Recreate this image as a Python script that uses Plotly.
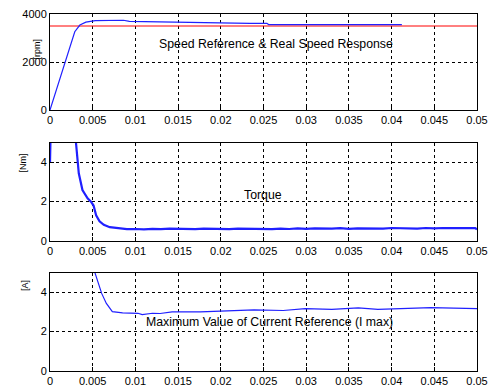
import plotly.graph_objects as go

# ---- data ----
x_ticks = [0, 0.005, 0.01, 0.015, 0.02, 0.025, 0.03, 0.035, 0.04, 0.045, 0.05]
x_ticklabels = ["0", "0.005", "0.01", "0.015", "0.02", "0.025", "0.03", "0.035", "0.04", "0.045", "0.05"]

speed_t = [0, 0.001, 0.002, 0.0029, 0.0035, 0.0042, 0.0053, 0.007, 0.0086, 0.0093, 0.0129, 0.0131,
           0.018, 0.0182, 0.0234, 0.0254, 0.0256, 0.03, 0.035, 0.0412]
speed_v = [0, 1150, 2250, 3260, 3540, 3660, 3720, 3730, 3740, 3690, 3670, 3640,
           3630, 3610, 3610, 3610, 3560, 3560, 3555, 3555]

ref_t = [0, 0.05]
ref_v = [3500, 3500]

torque_t = [0, 0.0002, 0.0029, 0.00304, 0.00337, 0.0038, 0.0044, 0.0048, 0.0051, 0.0054, 0.0058,
            0.0063, 0.007, 0.0082, 0.009, 0.01, 0.011, 0.012, 0.013, 0.014, 0.015, 0.016, 0.017,
            0.018, 0.019, 0.02, 0.021, 0.022, 0.023, 0.024, 0.025, 0.026, 0.027, 0.028, 0.029,
            0.03, 0.031, 0.032, 0.033, 0.034, 0.035, 0.036, 0.037, 0.038, 0.039, 0.04, 0.041,
            0.042, 0.043, 0.044, 0.045, 0.046, 0.047, 0.048, 0.049, 0.0498, 0.05]
torque_v = [4.0, 8.0, 8.0, 5.0, 3.44, 2.59, 2.17, 2.0, 1.8, 1.3, 1.0,
            0.82, 0.7, 0.62, 0.6, 0.61, 0.59, 0.62, 0.6, 0.63, 0.61, 0.62, 0.6,
            0.63, 0.61, 0.62, 0.6, 0.63, 0.62, 0.61, 0.63, 0.6, 0.63, 0.61, 0.64,
            0.62, 0.64, 0.62, 0.63, 0.65, 0.62, 0.64, 0.63, 0.65, 0.63, 0.66, 0.64,
            0.65, 0.63, 0.66, 0.64, 0.66, 0.65, 0.64, 0.66, 0.65, 0.6]

cur_t = [0.0045, 0.00527, 0.00605, 0.0066, 0.0073, 0.0085, 0.0103, 0.0108, 0.012, 0.0129,
         0.0143, 0.0176, 0.0215, 0.0234, 0.0239, 0.0273, 0.0299, 0.033, 0.0361, 0.0384,
         0.0407, 0.0446, 0.05]
cur_v = [6.0, 5.0, 3.94, 3.43, 3.01, 2.95, 2.93, 2.86, 2.93, 2.92,
         3.0, 3.0, 3.05, 3.1, 3.1, 3.07, 3.17, 3.13, 3.2, 3.13,
         3.17, 3.22, 3.17]

speed_ticks = [0, 2000, 4000]
small_ticks = [0, 2, 4]
y_titles = ["[rpm]", "[Nm]", "[A]"]
panel_texts = ["Speed Reference & Real Speed Response", "Torque",
               "Maximum Value of Current Reference (I max)"]

FONT = "Liberation Sans, Arial, sans-serif"
BLUE = "#2020ff"

fig = go.Figure()
fig.add_trace(go.Scatter(x=ref_t, y=ref_v, mode="lines", line=dict(color="#ff0000", width=1),
                         xaxis="x", yaxis="y"))
fig.add_trace(go.Scatter(x=speed_t, y=speed_v, mode="lines", line=dict(color=BLUE, width=1.2),
                         xaxis="x", yaxis="y"))
fig.add_trace(go.Scatter(x=torque_t, y=torque_v, mode="lines", line=dict(color=BLUE, width=2.2),
                         xaxis="x2", yaxis="y2"))
fig.add_trace(go.Scatter(x=cur_t, y=cur_v, mode="lines", line=dict(color=BLUE, width=1.2),
                         xaxis="x3", yaxis="y3"))

W, H = 488, 390
xdom = [50 / W, 477 / W]
ydoms = [[1 - 110 / H, 1 - 14 / H], [1 - 241 / H, 1 - 142.5 / H], [1 - 371 / H, 1 - 272.5 / H]]

def xax(anchor):
    return dict(domain=xdom, range=[0, 0.05], tickvals=x_ticks, ticktext=x_ticklabels,
                showline=True, linecolor="black", linewidth=1, mirror=True,
                showgrid=True, gridcolor="black", griddash="3px,3px", gridwidth=1,
                ticks="inside", ticklen=4, tickcolor="black", zeroline=False, automargin=False,
                tickfont=dict(family=FONT, size=11, color="black"), anchor=anchor)

def yax(dom, rng, tv, anchor):
    return dict(domain=dom, range=rng, tickvals=tv,
                showline=True, linecolor="black", linewidth=1, mirror=True,
                showgrid=True, gridcolor="black", griddash="3px,3px", gridwidth=1,
                ticks="inside", ticklen=4, tickcolor="black", zeroline=False, automargin=False,
                tickfont=dict(family=FONT, size=11, color="black"), anchor=anchor)

fig.update_layout(
    width=W, height=H, margin=dict(l=0, r=0, t=0, b=0, autoexpand=False),
    paper_bgcolor="white", plot_bgcolor="white", showlegend=False,
    xaxis=xax("y"), yaxis=yax(ydoms[0], [0, 4000], speed_ticks, "x"),
    xaxis2=xax("y2"), yaxis2=yax(ydoms[1], [0, 5], small_ticks, "x2"),
    xaxis3=xax("y3"), yaxis3=yax(ydoms[2], [0, 5], small_ticks, "x3"),
)

# rotated y-axis titles (pixel centres)
title_pos = [(29.5, 36.5), (15.5, 163), (17.5, 293)]
for txt, (px, py) in zip(y_titles, title_pos):
    fig.add_annotation(x=px / W, y=1 - py / H, xref="paper", yref="paper", text=txt,
                       textangle=-90, showarrow=False,
                       font=dict(family=FONT, size=9, color="black"))

ann_font = dict(family=FONT, size=12.3, color="black")
fig.add_annotation(x=0.0265, y=2750, xref="x", yref="y", text=panel_texts[0],
                   showarrow=False, font=ann_font)
fig.add_annotation(x=0.0249, y=2.33, xref="x2", yref="y2", text=panel_texts[1],
                   showarrow=False, font=ann_font)
fig.add_annotation(x=0.0257, y=2.47, xref="x3", yref="y3", text=panel_texts[2],
                   showarrow=False, font=ann_font)

fig.write_html("out.html", config={"displayModeBar": False},
               post_script="document.body.style.margin='0';document.body.style.overflow='hidden';")
